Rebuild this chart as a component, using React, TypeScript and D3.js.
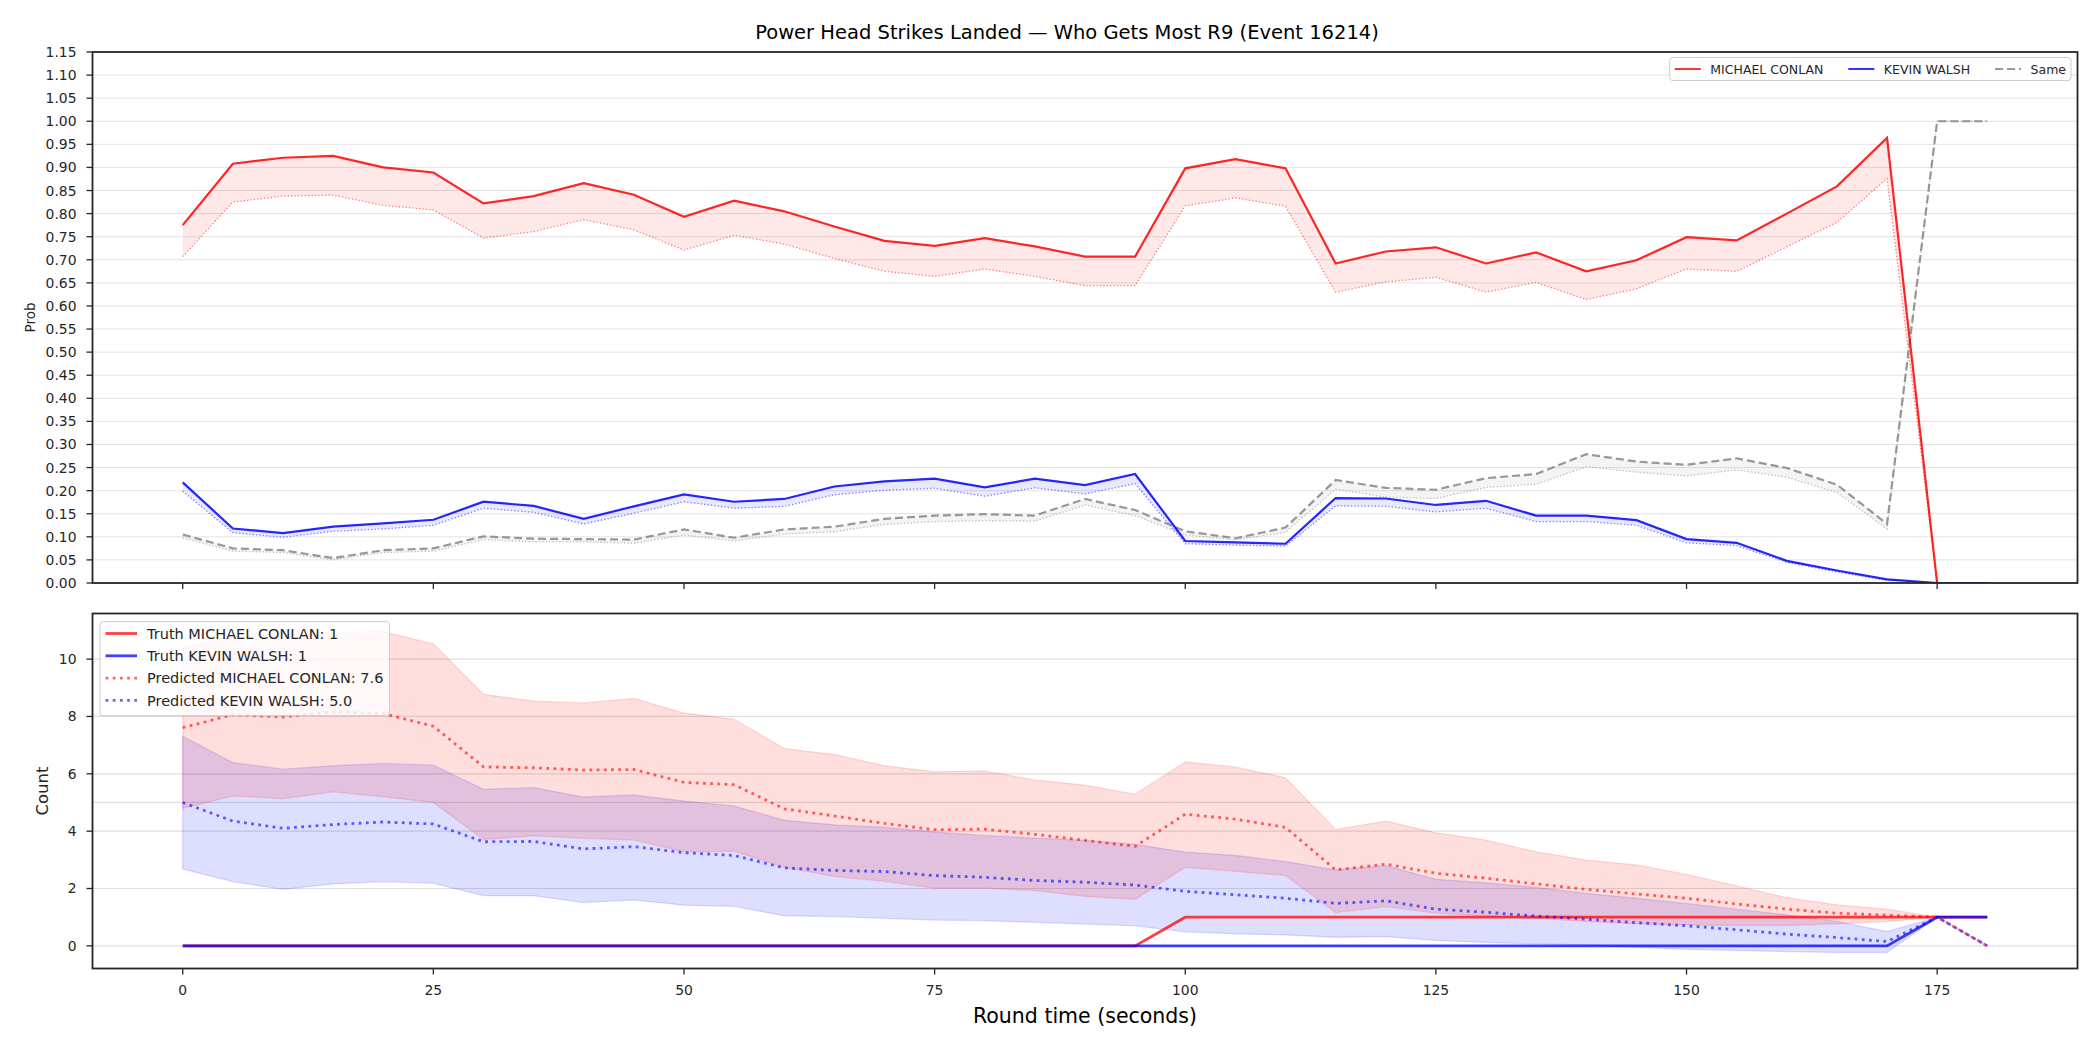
import { useEffect, useRef } from "react";
import * as d3 from "d3";

// round time in seconds
const times = [0, 5, 10, 15, 20, 25, 30, 35, 40, 45, 50, 55, 60, 65, 70, 75, 80, 85, 90, 95, 100, 105, 110, 115, 120, 125, 130, 135, 140, 145, 150, 155, 160, 165, 170, 175, 180];

const fighterA = "MICHAEL CONLAN";
const fighterB = "KEVIN WALSH";

// probability of getting most strikes in R9, with lower band
const conlanProb = [0.775, 0.908, 0.921, 0.925, 0.900, 0.889, 0.822, 0.838, 0.866, 0.841, 0.793, 0.828, 0.805, 0.772, 0.741, 0.730, 0.747, 0.729, 0.707, 0.707, 0.898, 0.918, 0.898, 0.692, 0.718, 0.727, 0.692, 0.716, 0.675, 0.699, 0.749, 0.742, 0.800, 0.859, 0.964, 0, 0];
const conlanProbLo = [0.707, 0.825, 0.838, 0.840, 0.818, 0.808, 0.747, 0.761, 0.787, 0.765, 0.721, 0.753, 0.734, 0.703, 0.675, 0.664, 0.680, 0.664, 0.644, 0.644, 0.817, 0.834, 0.816, 0.630, 0.652, 0.662, 0.630, 0.651, 0.614, 0.637, 0.680, 0.675, 0.728, 0.781, 0.876, 0, 0];
const walshProb = [0.218, 0.118, 0.108, 0.122, 0.129, 0.137, 0.176, 0.167, 0.139, 0.166, 0.192, 0.176, 0.182, 0.209, 0.220, 0.226, 0.207, 0.226, 0.212, 0.236, 0.091, 0.088, 0.085, 0.184, 0.183, 0.169, 0.178, 0.146, 0.146, 0.136, 0.095, 0.087, 0.048, 0.027, 0.008, 0, 0];
const walshProbLo = [0.199, 0.109, 0.099, 0.112, 0.117, 0.125, 0.162, 0.153, 0.128, 0.151, 0.176, 0.162, 0.166, 0.191, 0.201, 0.205, 0.188, 0.206, 0.193, 0.215, 0.085, 0.082, 0.080, 0.167, 0.166, 0.154, 0.162, 0.133, 0.133, 0.125, 0.087, 0.081, 0.045, 0.024, 0.006, 0, 0];
const sameProb = [0.105, 0.075, 0.071, 0.054, 0.071, 0.075, 0.101, 0.096, 0.095, 0.094, 0.116, 0.098, 0.116, 0.122, 0.139, 0.146, 0.149, 0.146, 0.182, 0.158, 0.112, 0.097, 0.120, 0.223, 0.206, 0.202, 0.227, 0.236, 0.279, 0.263, 0.256, 0.270, 0.249, 0.213, 0.128, 1.0, 1.0];
const sameProbLo = [0.098, 0.069, 0.066, 0.050, 0.066, 0.069, 0.094, 0.089, 0.089, 0.086, 0.104, 0.091, 0.106, 0.111, 0.127, 0.133, 0.135, 0.134, 0.169, 0.146, 0.104, 0.093, 0.110, 0.203, 0.186, 0.183, 0.207, 0.214, 0.252, 0.240, 0.232, 0.245, 0.229, 0.196, 0.117, 1.0, 1.0];

// strike counts: truth and predicted with band
const truthConlan = [0, 0, 0, 0, 0, 0, 0, 0, 0, 0, 0, 0, 0, 0, 0, 0, 0, 0, 0, 0, 1, 1, 1, 1, 1, 1, 1, 1, 1, 1, 1, 1, 1, 1, 1, 1, 1];
const truthWalsh = [0, 0, 0, 0, 0, 0, 0, 0, 0, 0, 0, 0, 0, 0, 0, 0, 0, 0, 0, 0, 0, 0, 0, 0, 0, 0, 0, 0, 0, 0, 0, 0, 0, 0, 0, 1, 1];
const predConlan = [7.61, 8.06, 7.98, 8.16, 8.10, 7.66, 6.24, 6.21, 6.13, 6.15, 5.70, 5.62, 4.78, 4.53, 4.27, 4.05, 4.07, 3.89, 3.68, 3.47, 4.59, 4.42, 4.13, 2.65, 2.85, 2.53, 2.36, 2.16, 1.97, 1.81, 1.66, 1.46, 1.28, 1.14, 1.07, 1.0, 0];
const conlanHi = [10.42, 10.77, 10.88, 10.94, 10.96, 10.53, 8.77, 8.53, 8.47, 8.63, 8.12, 7.90, 6.88, 6.67, 6.28, 6.07, 6.10, 5.78, 5.60, 5.29, 6.41, 6.24, 5.86, 4.06, 4.35, 3.94, 3.69, 3.28, 2.99, 2.82, 2.49, 2.09, 1.68, 1.43, 1.28, 1.0, 0];
const conlanLo = [4.79, 5.23, 5.13, 5.37, 5.20, 5.00, 3.71, 3.84, 3.75, 3.69, 3.28, 3.30, 2.74, 2.42, 2.25, 2.01, 2.01, 1.93, 1.73, 1.62, 2.74, 2.60, 2.45, 1.16, 1.37, 1.14, 1.04, 0.96, 0.85, 0.77, 0.73, 0.71, 0.71, 0.77, 0.85, 1.0, 0];
const predWalsh = [5.00, 4.35, 4.10, 4.23, 4.32, 4.25, 3.63, 3.64, 3.38, 3.46, 3.25, 3.15, 2.72, 2.63, 2.59, 2.45, 2.39, 2.28, 2.22, 2.12, 1.90, 1.78, 1.66, 1.48, 1.57, 1.28, 1.17, 1.04, 0.93, 0.81, 0.70, 0.56, 0.41, 0.29, 0.15, 1.0, 0];
const walshHi = [7.31, 6.39, 6.16, 6.28, 6.36, 6.30, 5.46, 5.52, 5.19, 5.26, 5.05, 4.88, 4.38, 4.22, 4.14, 3.97, 3.85, 3.76, 3.68, 3.54, 3.27, 3.15, 2.94, 2.65, 2.80, 2.32, 2.20, 2.04, 1.83, 1.66, 1.48, 1.28, 1.08, 0.85, 0.50, 1.0, 0];
const walshLo = [2.68, 2.24, 1.97, 2.16, 2.24, 2.18, 1.75, 1.75, 1.51, 1.60, 1.42, 1.38, 1.05, 1.02, 0.96, 0.90, 0.88, 0.82, 0.76, 0.70, 0.49, 0.42, 0.38, 0.30, 0.32, 0.19, 0.12, 0.07, 0.03, -0.05, -0.12, -0.16, -0.20, -0.23, -0.23, 1.0, 0];

const xTicks = [0, 25, 50, 75, 100, 125, 150, 175];
const probTicks = d3.range(0, 24).map((i) => +(i * 0.05).toFixed(2));
const countTicks = [0, 2, 4, 6, 8, 10];
const countGrid = [0, 2, 4, 5, 6, 8, 10];

const FONT = "DejaVu Sans, sans-serif";
const INK = "#262626";

const App = () => {
  const ref = useRef<SVGSVGElement>(null);

  useEffect(() => {
    const width = 2100, height = 1050;
    const left = 92.5, right = 2077.5;
    const pTop = 52, pBottom = 583;
    const cTop = 613.5, cBottom = 968.5;

    const svg = d3.select(ref.current).html("").attr("width", width).attr("height", height);
    svg.append("rect").attr("width", width).attr("height", height).attr("fill", "white");

    const x = d3.scaleLinear().domain([-9, 189]).range([left, right]);
    const yP = d3.scaleLinear().domain([0, 1.15]).range([pBottom, pTop]);
    const yC = d3.scaleLinear().domain([-0.79, 11.59]).range([cBottom, cTop]);

    const defs = svg.append("defs");
    defs.append("clipPath").attr("id", "clip-prob").append("rect")
      .attr("x", left).attr("y", pTop).attr("width", right - left).attr("height", pBottom - pTop);
    defs.append("clipPath").attr("id", "clip-count").append("rect")
      .attr("x", left).attr("y", cTop).attr("width", right - left).attr("height", cBottom - cTop);

    const lineOf = (y: d3.ScaleLinear<number, number>) =>
      d3.line<number>().x((_, i) => x(times[i])).y((d) => y(d));
    const areaOf = (y: d3.ScaleLinear<number, number>, lo: number[]) =>
      d3.area<number>().x((_, i) => x(times[i])).y0((_, i) => y(lo[i])).y1((d) => y(d));

    // ---------- top: probability panel ----------
    const gP = svg.append("g");
    gP.selectAll("line.grid").data(probTicks).join("line")
      .attr("x1", left).attr("x2", right)
      .attr("y1", (d) => yP(d)).attr("y2", (d) => yP(d))
      .attr("stroke", "#e3e3e3").attr("stroke-width", 1);

    const plotP = gP.append("g").attr("clip-path", "url(#clip-prob)");
    const probSeries = [
      { hi: sameProb, lo: sameProbLo, color: "gray", dash: "8,4" },
      { hi: conlanProb, lo: conlanProbLo, color: "red", dash: null },
      { hi: walshProb, lo: walshProbLo, color: "blue", dash: null },
    ];
    probSeries.forEach((s) => {
      plotP.append("path").attr("d", areaOf(yP, s.lo)(s.hi))
        .attr("fill", s.color).attr("fill-opacity", 0.09);
      plotP.append("path").attr("d", lineOf(yP)(s.lo))
        .attr("fill", "none").attr("stroke", s.color).attr("stroke-opacity", 0.5)
        .attr("stroke-width", 1.3).attr("stroke-dasharray", "1.3,2.1");
    });
    probSeries.forEach((s) => {
      plotP.append("path").attr("d", lineOf(yP)(s.hi))
        .attr("fill", "none").attr("stroke", s.color)
        .attr("stroke-opacity", s.color === "gray" ? 0.8 : 0.85)
        .attr("stroke-width", 2.2).attr("stroke-dasharray", s.dash);
    });

    // y ticks
    gP.selectAll("line.yt").data(probTicks).join("line")
      .attr("x1", left - 6).attr("x2", left)
      .attr("y1", (d) => yP(d)).attr("y2", (d) => yP(d))
      .attr("stroke", INK).attr("stroke-width", 1.3);
    gP.selectAll("text.yt").data(probTicks).join("text")
      .attr("x", left - 16).attr("y", (d) => yP(d) + 5)
      .attr("text-anchor", "end").attr("font-family", FONT).attr("font-size", 13.9)
      .attr("fill", INK).text((d) => d.toFixed(2));
    gP.selectAll("line.xt").data(xTicks).join("line")
      .attr("x1", (d) => x(d)).attr("x2", (d) => x(d))
      .attr("y1", pBottom).attr("y2", pBottom + 6)
      .attr("stroke", INK).attr("stroke-width", 1.3);
    gP.append("rect").attr("x", left).attr("y", pTop).attr("width", right - left).attr("height", pBottom - pTop)
      .attr("fill", "none").attr("stroke", INK).attr("stroke-width", 1.8);
    gP.append("text")
      .attr("transform", `translate(34.5,${(pTop + pBottom) / 2}) rotate(-90)`)
      .attr("text-anchor", "middle").attr("font-family", FONT).attr("font-size", 13.5)
      .attr("fill", INK).text("Prob");

    // top legend, right aligned in one row
    const legP = gP.append("g");
    const legItems = [
      { label: fighterA, color: "red", dash: null },
      { label: fighterB, color: "blue", dash: null },
      { label: "Same", color: "gray", dash: "8,4" },
    ];
    const lfs = 12.5, handle = 26, hpad = 9.5, colGap = 25, bpad = 5;
    const legBox = legP.append("rect");
    let cx = 0;
    const placed: { g: any; w: number }[] = [];
    legItems.forEach((it) => {
      const g = legP.append("g");
      g.append("line").attr("x1", 0).attr("x2", handle).attr("y1", 0).attr("y2", 0)
        .attr("stroke", it.color).attr("stroke-opacity", 0.8).attr("stroke-width", 2)
        .attr("stroke-dasharray", it.dash);
      const t = g.append("text").attr("x", handle + hpad).attr("y", lfs * 0.36)
        .attr("font-family", FONT).attr("font-size", lfs).attr("fill", INK).text(it.label);
      const w = handle + hpad + (t.node() as SVGTextElement).getComputedTextLength();
      placed.push({ g, w });
    });
    const total = d3.sum(placed, (p) => p.w) + colGap * (placed.length - 1) + 2 * bpad;
    const lx0 = 2071 - total, ly0 = 57.5, lh = 23;
    legBox.attr("x", lx0).attr("y", ly0).attr("width", total).attr("height", lh).attr("rx", 3)
      .attr("fill", "white").attr("fill-opacity", 0.8).attr("stroke", "#cccccc").attr("stroke-width", 1);
    cx = lx0 + bpad;
    placed.forEach((p) => {
      p.g.attr("transform", `translate(${cx},${ly0 + lh / 2})`);
      cx += p.w + colGap;
    });

    // ---------- bottom: count panel ----------
    const gC = svg.append("g");
    gC.selectAll("line.grid").data(countGrid).join("line")
      .attr("x1", left).attr("x2", right)
      .attr("y1", (d) => yC(d)).attr("y2", (d) => yC(d))
      .attr("stroke", "#dedede").attr("stroke-width", 1.2);

    const plotC = gC.append("g").attr("clip-path", "url(#clip-count)");
    [
      { hi: walshHi, lo: walshLo, color: "blue" },
      { hi: conlanHi, lo: conlanLo, color: "red" },
    ].forEach((s) => {
      plotC.append("path").attr("d", areaOf(yC, s.lo)(s.hi))
        .attr("fill", s.color).attr("fill-opacity", 0.13)
        .attr("stroke", s.color).attr("stroke-opacity", 0.13).attr("stroke-width", 1.3);
    });
    plotC.append("path").attr("d", lineOf(yC)(truthConlan))
      .attr("fill", "none").attr("stroke", "red").attr("stroke-opacity", 0.75).attr("stroke-width", 2.8);
    plotC.append("path").attr("d", lineOf(yC)(truthWalsh))
      .attr("fill", "none").attr("stroke", "blue").attr("stroke-opacity", 0.75).attr("stroke-width", 2.8);
    plotC.append("path").attr("d", lineOf(yC)(predConlan))
      .attr("fill", "none").attr("stroke", "red").attr("stroke-opacity", 0.6).attr("stroke-width", 2.8)
      .attr("stroke-dasharray", "2.8,4.4");
    plotC.append("path").attr("d", lineOf(yC)(predWalsh))
      .attr("fill", "none").attr("stroke", "blue").attr("stroke-opacity", 0.6).attr("stroke-width", 2.8)
      .attr("stroke-dasharray", "2.8,4.4");

    gC.selectAll("line.yt").data(countTicks).join("line")
      .attr("x1", left - 6).attr("x2", left)
      .attr("y1", (d) => yC(d)).attr("y2", (d) => yC(d))
      .attr("stroke", INK).attr("stroke-width", 1.3);
    gC.selectAll("text.yt").data(countTicks).join("text")
      .attr("x", left - 16).attr("y", (d) => yC(d) + 5)
      .attr("text-anchor", "end").attr("font-family", FONT).attr("font-size", 13.9)
      .attr("fill", INK).text((d) => String(d));
    gC.selectAll("line.xt").data(xTicks).join("line")
      .attr("x1", (d) => x(d)).attr("x2", (d) => x(d))
      .attr("y1", cBottom).attr("y2", cBottom + 6)
      .attr("stroke", INK).attr("stroke-width", 1.3);
    gC.selectAll("text.xt").data(xTicks).join("text")
      .attr("x", (d) => x(d)).attr("y", cBottom + 26.5)
      .attr("text-anchor", "middle").attr("font-family", FONT).attr("font-size", 13.9)
      .attr("fill", INK).text((d) => String(d));
    gC.append("rect").attr("x", left).attr("y", cTop).attr("width", right - left).attr("height", cBottom - cTop)
      .attr("fill", "none").attr("stroke", INK).attr("stroke-width", 1.8);
    gC.append("text")
      .attr("transform", `translate(48,${(cTop + cBottom) / 2}) rotate(-90)`)
      .attr("text-anchor", "middle").attr("font-family", FONT).attr("font-size", 16.5)
      .attr("fill", INK).text("Count");
    gC.append("text").attr("x", (left + right) / 2).attr("y", 1023)
      .attr("text-anchor", "middle").attr("font-family", FONT).attr("font-size", 20.5)
      .attr("fill", "black").text("Round time (seconds)");

    // bottom legend
    const legC = gC.append("g");
    const cItems = [
      { label: `Truth ${fighterA}: ${truthConlan[truthConlan.length - 1]}`, color: "red", dash: null, op: 0.75 },
      { label: `Truth ${fighterB}: ${truthWalsh[truthWalsh.length - 1]}`, color: "blue", dash: null, op: 0.75 },
      { label: `Predicted ${fighterA}: ${predConlan[0].toFixed(1)}`, color: "red", dash: "2.8,4.4", op: 0.6 },
      { label: `Predicted ${fighterB}: ${predWalsh[0].toFixed(1)}`, color: "blue", dash: "2.8,4.4", op: 0.6 },
    ];
    const cbx = 100, cby = 621.7, rowH = 22.3, cfs = 14.5;
    const cBox = legC.append("rect");
    let maxW = 0;
    cItems.forEach((it, i) => {
      const cy = cby + 11.8 + i * rowH;
      legC.append("line").attr("x1", cbx + 5.5).attr("x2", cbx + 37).attr("y1", cy).attr("y2", cy)
        .attr("stroke", it.color).attr("stroke-opacity", it.op).attr("stroke-width", 2.8)
        .attr("stroke-dasharray", it.dash);
      const t = legC.append("text").attr("x", cbx + 47).attr("y", cy + cfs * 0.36)
        .attr("font-family", FONT).attr("font-size", cfs).attr("fill", INK).text(it.label);
      maxW = Math.max(maxW, (t.node() as SVGTextElement).getComputedTextLength());
    });
    cBox.attr("x", cbx).attr("y", cby).attr("width", 47 + maxW + 6).attr("height", 94).attr("rx", 3)
      .attr("fill", "white").attr("fill-opacity", 0.8).attr("stroke", "#cccccc").attr("stroke-width", 1);

    // title
    svg.append("text").attr("x", 1067).attr("y", 39)
      .attr("text-anchor", "middle").attr("font-family", FONT).attr("font-size", 19.5)
      .attr("fill", "black").text("Power Head Strikes Landed \u2014 Who Gets Most R9 (Event 16214)");
  }, []);

  return <svg ref={ref} style={{ position: "absolute", left: 0, top: 0 }}></svg>;
};

export default App;
